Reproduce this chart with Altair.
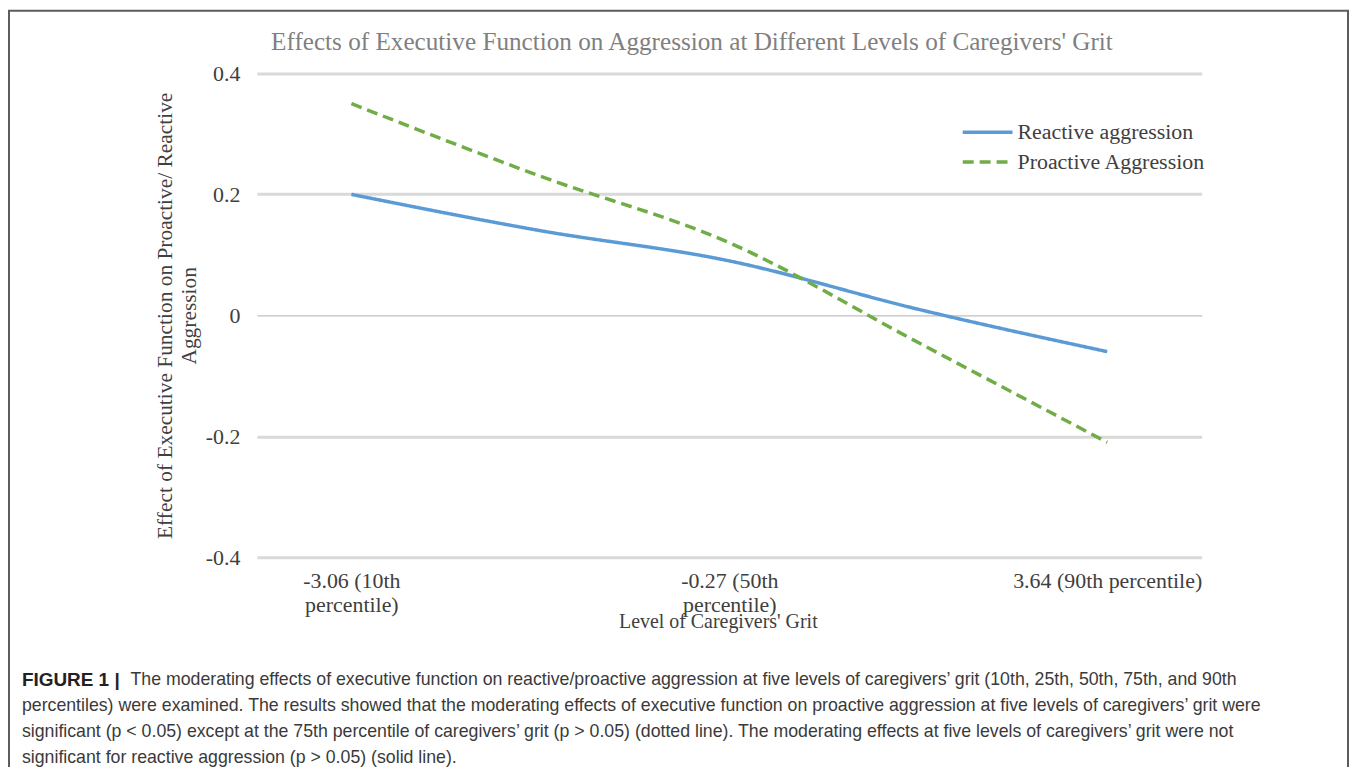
import altair as alt
import pandas as pd

# ---------------- data ----------------
categories = ["10th", "25th", "50th", "75th", "90th"]
reactive = [0.20, 0.14, 0.09, 0.01, -0.06]
proactive = [0.35, 0.23, 0.12, -0.045, -0.21]
series_names = ["Reactive aggression", "Proactive Aggression"]
series_colors = ["#5b9bd5", "#70ad47"]
series_dash = [[1, 0], [11, 6]]

tick_labels = {
    "10th": ["-3.06 (10th", "percentile)"],
    "25th": [""],
    "50th": ["-0.27 (50th", "percentile)"],
    "75th": [""],
    "90th": ["3.64 (90th percentile)"],
}
y_ticks = [-0.4, -0.2, 0, 0.2, 0.4]

title_text = "Effects of Executive Function on Aggression at Different Levels of Caregivers' Grit"
y_title = ["Effect of Executive Function on Proactive/ Reactive", "Aggression"]
x_title = "Level of Caregivers' Grit"

caption_lead = "FIGURE 1 |"
caption_first = ("The moderating effects of executive function on reactive/proactive aggression at five levels "
                 "of caregivers\u2019 grit (10th, 25th, 50th, 75th, and 90th")
caption_rest = [
    "percentiles) were examined. The results showed that the moderating effects of executive function on proactive aggression at five levels of caregivers\u2019 grit were",
    "significant (p < 0.05) except at the 75th percentile of caregivers\u2019 grit (p > 0.05) (dotted line). The moderating effects at five levels of caregivers\u2019 grit were not",
    "significant for reactive aggression (p > 0.05) (solid line).",
]

# ---------------- table ----------------
rows = []
for name, vals in zip(series_names, [reactive, proactive]):
    for c, v in zip(categories, vals):
        rows.append({"grit": c, "effect": v, "series": name})
df = pd.DataFrame(rows)


def js_str(s):
    return "'" + s.replace("\\", "\\\\").replace("'", "\\'") + "'"


label_expr = "".join(
    f"datum.value === {js_str(k)} ? [{','.join(js_str(s) for s in v)}] : " for k, v in tick_labels.items()
) + "''"

SERIF = "Liberation Serif"
TXT = "#404040"

legend_common = dict(
    title=None,
    orient="none",
    legendX=707,
    legendY=49,
    symbolType="stroke",
    symbolSize=2500,
    symbolStrokeWidth=3.5,
    clipHeight=20,
    rowPadding=8,
    labelOffset=3,
    labelLimit=400,
    labelFont=SERIF,
    labelFontSize=22,
    labelColor=TXT,
    padding=0,
)

lines = alt.Chart(df).mark_line(strokeWidth=3.5, interpolate="monotone").encode(
    x=alt.X(
        "grit:N",
        sort=categories,
        scale=alt.Scale(type="point", padding=0.5),
        axis=alt.Axis(
            title=x_title,
            titleFont=SERIF,
            titleFontSize=20,
            titleFontWeight="normal",
            titleColor=TXT,
            titleX=463,
            titleY=71,
            titleAlign="center",
            titleBaseline="alphabetic",
            labelExpr=label_expr,
            labelFont=SERIF,
            labelFontSize=22,
            labelColor=TXT,
            labelLineHeight=25,
            labelPadding=13,
            labelAngle=0,
            labelLimit=400,
            ticks=False,
            domain=False,
            grid=False,
        ),
    ),
    y=alt.Y(
        "effect:Q",
        scale=alt.Scale(domain=[-0.4, 0.4], nice=False, zero=False),
        axis=alt.Axis(
            values=y_ticks,
            title=y_title,
            titleFont=SERIF,
            titleFontSize=21.5,
            titleFontWeight="normal",
            titleColor=TXT,
            titleAngle=-90,
            titleX=-92,
            titleY=243,
            titleAlign="center",
            titleBaseline="middle",
            titleLineHeight=24,
            labelExpr="datum.value == 0 ? '0' : (datum.value < 0 ? '-' + format(-datum.value, '.1f') : format(datum.value, '.1f'))",
            labelFont=SERIF,
            labelFontSize=22,
            labelColor=TXT,
            labelPadding=17,
            ticks=False,
            domain=False,
            grid=True,
            gridColor={"condition": {"test": "datum.value === 0", "value": "#bfbfbf"}, "value": "#d9d9d9"},
            gridWidth={"condition": {"test": "datum.value === 0", "value": 1.3}, "value": 3},
        ),
    ),
    color=alt.Color(
        "series:N",
        sort=series_names,
        scale=alt.Scale(domain=series_names, range=series_colors),
        legend=alt.Legend(**legend_common),
    ),
    strokeDash=alt.StrokeDash(
        "series:N",
        sort=series_names,
        scale=alt.Scale(domain=series_names, range=series_dash),
        legend=alt.Legend(**legend_common),
    ),
)

one = pd.DataFrame({"a": [0]})

title_mark = alt.Chart(one).mark_text(
    text=title_text, font=SERIF, fontSize=25.3, color="#7f7f7f", align="center", baseline="middle"
).encode(x=alt.value(695 - 258), y=alt.value(40 - 72))

border = alt.Chart(one).mark_rect(fillOpacity=0, stroke="#5c5c5c", strokeWidth=2).encode(
    x=alt.value(-249), x2=alt.value(1096), y=alt.value(-63), y2=alt.value(760)
)

cap_font = "Liberation Sans"
cap_color = "#3a3a3a"
cap_size = 17.8
cap_lead = alt.Chart(one).mark_text(
    text=caption_lead, font=cap_font, fontSize=19, fontWeight="bold", align="left", baseline="middle", color="#222222"
).encode(x=alt.value(22 - 258), y=alt.value(681 - 72))
cap_first = alt.Chart(one).mark_text(
    text=caption_first, font=cap_font, fontSize=cap_size, align="left", baseline="middle", color=cap_color
).encode(x=alt.value(131 - 258), y=alt.value(681 - 72))
cap_rest = alt.Chart(one).mark_text(
    text=caption_rest, font=cap_font, fontSize=cap_size, align="left", baseline="middle", color=cap_color,
    lineHeight=26.3,
).encode(x=alt.value(22 - 258), y=alt.value(707.5 - 72))

chart = alt.layer(lines, title_mark, border, cap_lead, cap_first, cap_rest).properties(
    width=949,
    height=486,
    padding={"left": 250, "top": 64, "right": 148, "bottom": 209},
    autosize=alt.AutoSizeParams(type="none"),
).configure_view(stroke=None)

chart.save("out.html", embed_options={"renderer": "svg", "actions": False})
